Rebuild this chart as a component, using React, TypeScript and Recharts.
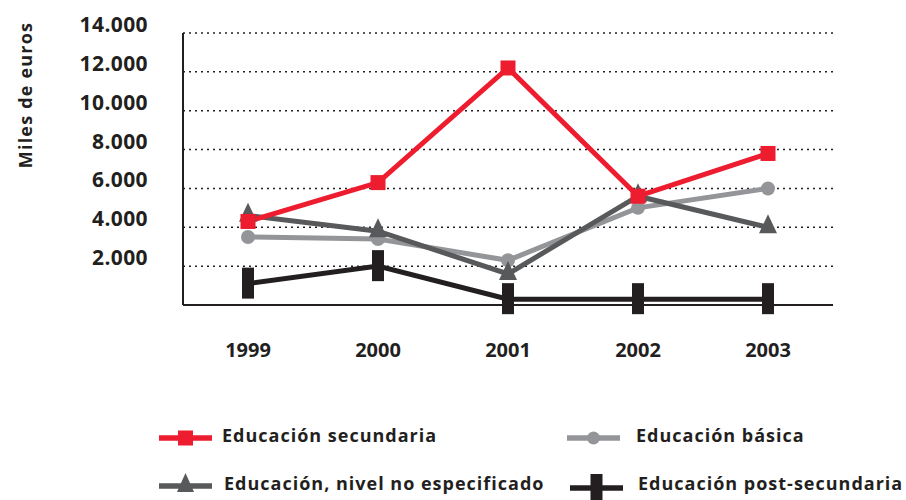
import React from 'react';
import { LineChart, Line, XAxis, YAxis, CartesianGrid } from 'recharts';

const years = ['1999', '2000', '2001', '2002', '2003'];
const secundaria = [4300, 6300, 12200, 5600, 7800];
const basica = [3500, 3400, 2300, 5000, 6000];
const noEspecificado = [4600, 3800, 1600, 5600, 4000];
const postSecundaria = [1100, 2000, 300, 300, 300];
const yTicks = [0, 2000, 4000, 6000, 8000, 10000, 12000, 14000];

const data = years.map((y, i) => ({
  year: y,
  secundaria: secundaria[i],
  basica: basica[i],
  noEsp: noEspecificado[i],
  post: postSecundaria[i],
}));

const RED = '#ED1C2E';
const LGRAY = '#939598';
const DGRAY = '#58595B';
const BLACK = '#231F20';
const FONT = '"Open Sans", sans-serif';

const fmt = (v: number) => v.toString().replace(/\B(?=(\d{3})+(?!\d))/g, '.');

const Square = (p: any) => (
  <rect x={p.cx - 7.5} y={p.cy - 7.5} width={15} height={15} fill={RED} />
);
const Circle = (p: any) => <circle cx={p.cx} cy={p.cy} r={7} fill={LGRAY} />;
const Tri = (p: any) => (
  <polygon
    points={`${p.cx},${p.cy - 13} ${p.cx - 9},${p.cy + 6} ${p.cx + 9},${p.cy + 6}`}
    fill={DGRAY}
  />
);
const Bar = (p: any) => (
  <rect x={p.cx - 6} y={p.cy - 16} width={12} height={31} fill={BLACK} />
);

const YTick = (p: any) => {
  if (p.payload.value === 0) return null;
  return (
    <text x={p.x - 33} y={p.y - 8.5} dy="0.36em" textAnchor="end" fontFamily={FONT} fontWeight={700} fontSize={21} letterSpacing={0.4} fill={BLACK}>
      {fmt(p.payload.value)}
    </text>
  );
};

const XTick = (p: any) => (
  <text x={p.x} y={305 + 45} dy="0.36em" textAnchor="middle" fontFamily={FONT} fontWeight={700} fontSize={20} fill={BLACK}>
    {p.payload.value}
  </text>
);

const legendItems = [
  { label: 'Educación secundaria', color: RED, kind: 'square', lx: 159, ly: 438, tx: 222, ty: 436 },
  { label: 'Educación básica', color: LGRAY, kind: 'circle', lx: 567, ly: 438, tx: 636, ty: 436 },
  { label: 'Educación, nivel no especificado', color: DGRAY, kind: 'tri', lx: 159, ly: 486, tx: 224, ty: 484 },
  { label: 'Educación post-secundaria', color: BLACK, kind: 'bar', lx: 570, ly: 488, tx: 638, ty: 484 },
];

const LegendSvg = () => (
  <svg width={906} height={500} style={{ position: 'absolute', left: 0, top: 0, pointerEvents: 'none' }}>
    {legendItems.map((it) => {
      const w = 53;
      const cx = it.lx + w / 2;
      const y = it.ly;
      let marker: any = null;
      if (it.kind === 'square') marker = <rect x={cx - 7.5} y={y - 7.5} width={15} height={15} fill={it.color} />;
      if (it.kind === 'circle') marker = <circle cx={cx} cy={y} r={6.5} fill={it.color} />;
      if (it.kind === 'tri') marker = <polygon points={`${cx},${y - 13} ${cx - 8.5},${y + 6} ${cx + 8.5},${y + 6}`} fill={it.color} />;
      if (it.kind === 'bar') marker = <rect x={cx - 6} y={y - 14} width={12} height={28} fill={it.color} />;
      return (
        <g key={it.label}>
          <line x1={it.lx} x2={it.lx + w} y1={y} y2={y} stroke={it.color} strokeWidth={5.5} />
          {marker}
          <text x={it.tx} y={it.ty} dy="0.36em" fontFamily={FONT} fontWeight={700} fontSize={18} letterSpacing={1} fill={BLACK}>
            {it.label}
          </text>
        </g>
      );
    })}
    <text
      x={32}
      y={95}
      textAnchor="middle"
      transform="rotate(-90 32 95)"
      fontFamily={FONT}
      fontWeight={700}
      fontSize={18}
      letterSpacing={1.2}
      fill={BLACK}
    >
      Miles de euros
    </text>
  </svg>
);

export default function App() {
  return (
    <div style={{ position: 'absolute', left: 0, top: 0, width: 906, height: 500, background: '#fff' }}>
      <LineChart
        width={906}
        height={500}
        data={data}
        margin={{ top: 33, right: 73, bottom: 145, left: 83 }}
      >
        <CartesianGrid vertical={false} stroke={BLACK} strokeDasharray="2 4" strokeWidth={1.5} />
        <XAxis
          dataKey="year"
          padding={{ left: 65, right: 65 }}
          axisLine={{ stroke: BLACK, strokeWidth: 2 }}
          tickLine={false}
          tickSize={0}
          tick={<XTick />}
          height={50}
          interval={0}
        />
        <YAxis
          width={100}
          domain={[0, 14000]}
          ticks={yTicks}
          axisLine={{ stroke: BLACK, strokeWidth: 2 }}
          tickLine={false}
          tickSize={0}
          tick={<YTick />}
          interval={0}
        />
        <Line dataKey="post" stroke={BLACK} strokeWidth={5} dot={<Bar />} isAnimationActive={false} />
        <Line dataKey="basica" stroke={LGRAY} strokeWidth={5} dot={<Circle />} isAnimationActive={false} />
        <Line dataKey="noEsp" stroke={DGRAY} strokeWidth={5} dot={<Tri />} isAnimationActive={false} />
        <Line dataKey="secundaria" stroke={RED} strokeWidth={5} dot={<Square />} isAnimationActive={false} />
      </LineChart>
      <LegendSvg />
    </div>
  );
}
